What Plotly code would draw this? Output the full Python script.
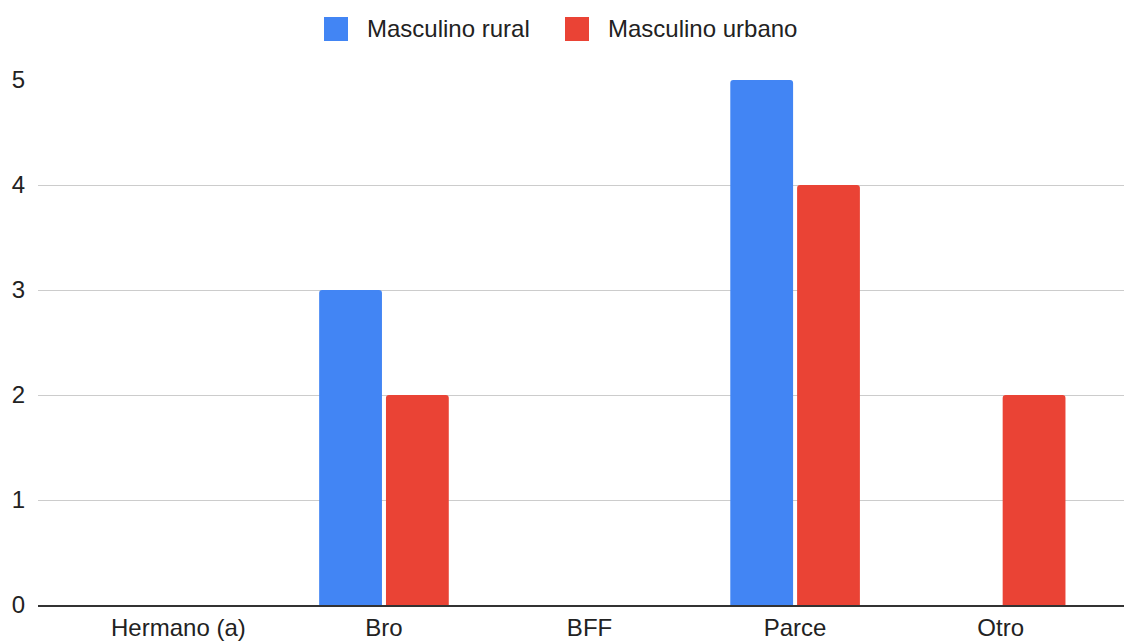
import plotly.graph_objects as go

categories = ["Hermano (a)", "Bro", "BFF", "Parce", "Otro"]
rural = [0, 3, 0, 5, 0]
urbano = [0, 2, 0, 4, 2]
y_ticks = [0, 1, 2, 3, 4, 5]
series_names = ["Masculino rural", "Masculino urbano"]

BLUE = "#4285F4"
RED = "#EA4335"
FONT = "Arial, Liberation Sans, sans-serif"
TEXT = "#222222"

W, H = 1124, 642
ML, MR, MT, MB = 38, 0, 80, 37

fig = go.Figure()
fig.add_trace(go.Bar(name=series_names[0], x=categories, y=rural,
                     marker=dict(color=BLUE, line=dict(width=0)), showlegend=False))
fig.add_trace(go.Bar(name=series_names[1], x=categories, y=urbano,
                     marker=dict(color=RED, line=dict(width=0)), showlegend=False))

# custom legend (large rounded squares like the reference)
def px_to_paper(xp, yp):
    return (xp - ML) / (W - ML - MR), (H - MB - yp) / (H - MT - MB)

legend_items = [(series_names[0], BLUE, 324), (series_names[1], RED, 565)]
for name, col, x0p in legend_items:
    xa, ya = px_to_paper(x0p, 17)
    xb, yb = px_to_paper(x0p + 24, 41)
    fig.add_shape(type="rect", xref="paper", yref="paper", x0=xa, x1=xb, y0=yb, y1=ya,
                  fillcolor=col, line=dict(width=0), layer="above")
    xt, yt = px_to_paper(x0p + 41, 29)
    fig.add_annotation(text=name, xref="paper", yref="paper", x=xt, y=yt,
                       xanchor="left", yanchor="middle", showarrow=False,
                       font=dict(family=FONT, size=24, color=TEXT))

fig.update_layout(
    width=W, height=H,
    margin=dict(l=ML, r=MR, t=MT, b=MB),
    paper_bgcolor="white", plot_bgcolor="white",
    barmode="group", bargap=0.35, bargroupgap=0.06, barcornerradius=3,
    font=dict(family=FONT, size=24, color=TEXT),
    showlegend=False,
)
fig.update_xaxes(range=[-0.683, 4.60], showgrid=False, ticks="",
                 showline=True, linecolor="#333333", linewidth=1.5,
                 tickfont=dict(size=24, color=TEXT), fixedrange=True)
fig.update_yaxes(range=[0, 5], tickvals=y_ticks, showgrid=True, gridcolor="#cccccc",
                 gridwidth=1, zeroline=False, showline=False, ticks="",
                 ticklabelstandoff=12,
                 tickfont=dict(size=24, color=TEXT), fixedrange=True)

fig.write_html("out.html", config={"displayModeBar": False},
               post_script="document.body.style.margin='0';document.body.style.overflow='hidden';")
